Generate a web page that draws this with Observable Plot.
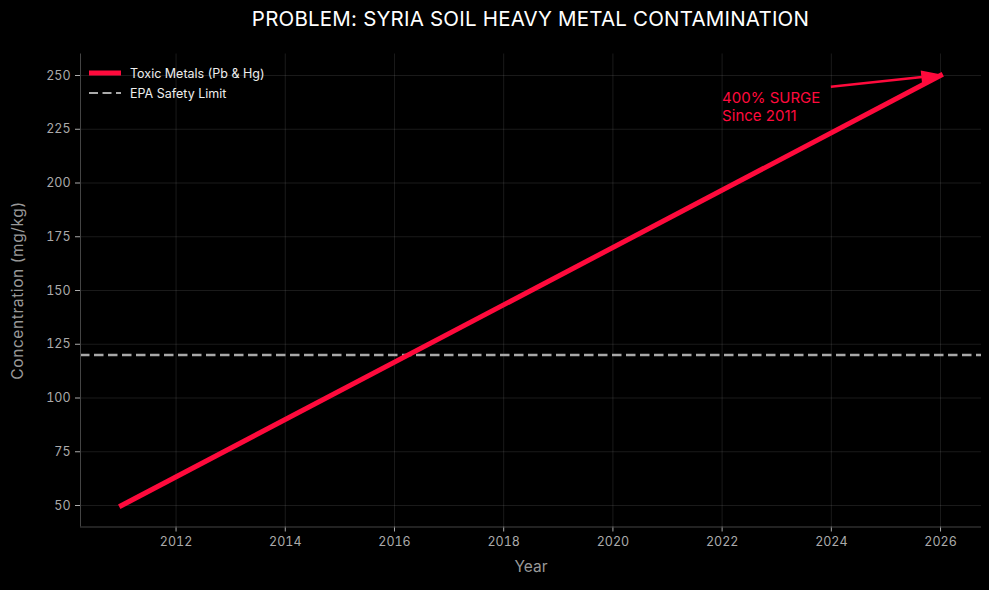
<!DOCTYPE html>
<html>
<head>
<meta charset="utf-8">
<script src="https://cdn.jsdelivr.net/npm/d3@7"></script>
<script src="https://cdn.jsdelivr.net/npm/@observablehq/plot@0.6"></script>
<style>
  html, body { margin: 0; padding: 0; background: #000; }
  #wrap { position: relative; width: 989px; height: 590px; background: #000; font-family: Inter, "Open Sans", sans-serif; }
  #title { height: 40px; line-height: 38px; width: 1061px; margin-left: 0; text-align: center; color: #fff; font-size: 20.5px; letter-spacing: 0.2px; white-space: nowrap; }
  #legend { position: absolute; left: 88px; top: 63px; color: #eee; font-size: 12.5px; }
  #legend .row { display: flex; align-items: center; height: 20px; }
  #legend svg { margin-right: 8px; }
  .ylab { letter-spacing: 0.6px; }
</style>
</head>
<body>
<div id="wrap">
  <div id="title">PROBLEM: SYRIA SOIL HEAVY METAL CONTAMINATION</div>
  <div id="chart"></div>
  <div id="legend"></div>
</div>
<script>
// Soil heavy metal concentration (Pb & Hg), mg/kg
const years = [2011, 2026];
const toxicMetals = [50, 250];
const epaLimit = 120;

// Annotation: label position and arrow target
const noteText = ["400% SURGE", "Since 2011"];
const noteAt = {x: 2022, y: 230};
const arrowFrom = {x: 2024, y: 244.5};
const arrowTo = {x: 2026, y: 250};

const xTicks = [2012, 2014, 2016, 2018, 2020, 2022, 2024, 2026];
const yTicks = [50, 75, 100, 125, 150, 175, 200, 225, 250];

const red = "#ff0a3c";
const font = "Inter, 'Open Sans', sans-serif";
const series = years.map((x, i) => ({x, y: toxicMetals[i]}));

// Straight arrow with a filled triangular head, positioned through the plot scales
function filledArrow(from, to, {stroke, strokeWidth = 2.5, headLength = 18, headWidth = 11}) {
  return (index, scales) => {
    const x1 = scales.x(from.x), y1 = scales.y(from.y);
    const x2 = scales.x(to.x), y2 = scales.y(to.y);
    const a = Math.atan2(y2 - y1, x2 - x1);
    const bx = x2 - headLength * Math.cos(a), by = y2 - headLength * Math.sin(a);
    const nx = -Math.sin(a) * headWidth / 2, ny = Math.cos(a) * headWidth / 2;
    const g = d3.create("svg:g");
    g.append("line").attr("x1", x1).attr("y1", y1).attr("x2", bx).attr("y2", by)
      .attr("stroke", stroke).attr("stroke-width", strokeWidth);
    g.append("path").attr("d", `M${x2},${y2}L${bx + nx},${by + ny}L${bx - nx},${by - ny}Z`)
      .attr("fill", stroke).attr("stroke", stroke).attr("stroke-width", 1.5).attr("stroke-linejoin", "miter");
    return g.node();
  };
}

const chart = Plot.plot({
  width: 989,
  height: 550,
  marginLeft: 80,
  marginRight: 8,
  marginTop: 13.5,
  marginBottom: 63.5,
  style: {background: "#000", color: "#aaa", fontFamily: font, fontSize: "12.5px"},
  x: {domain: [2010.25, 2026.75], label: null},
  y: {domain: [40, 260], label: null},
  marks: [
    Plot.gridX(xTicks, {stroke: "#fff", strokeOpacity: 0.1}),
    Plot.gridY(yTicks, {stroke: "#fff", strokeOpacity: 0.1}),
    Plot.ruleY([epaLimit], {stroke: "#a8a8a8", strokeWidth: 2.5, strokeDasharray: "9.5,4.5"}),
    Plot.line(series, {x: "x", y: "y", stroke: red, strokeWidth: 5, strokeLinecap: "square"}),
    filledArrow(arrowFrom, arrowTo, {stroke: red}),
    Plot.text([noteAt], {
      x: "x", y: "y", text: () => noteText.join("\n"), fill: red, textAnchor: "start",
      lineAnchor: "bottom", fontSize: 15, lineHeight: 1.15, dy: 2
    }),
    Plot.axisX(xTicks, {stroke: "#aaa", color: "#aaa", tickSize: 5, tickPadding: 5, tickFormat: d => String(d)}),
    Plot.axisY(yTicks, {stroke: "#aaa", color: "#aaa", tickSize: 5, tickPadding: 5}),
    Plot.ruleX([2010.25], {stroke: "#444"}),
    Plot.ruleY([40], {stroke: "#444"}),
    Plot.text(["Year"], {frameAnchor: "bottom", dy: 45, fill: "#999", fontSize: 15.5}),
    Plot.text(["Concentration (mg/kg)"], {
      frameAnchor: "left", textAnchor: "middle", dx: -62, rotate: -90, fill: "#999", fontSize: 15.5, className: "ylab"
    })
  ]
});
document.getElementById("chart").appendChild(chart);

// Legend entries
const legendItems = [
  {label: "Toxic Metals (Pb & Hg)", stroke: red, width: 5, dash: null},
  {label: "EPA Safety Limit", stroke: "#aaa", width: 2, dash: "9,4.5"}
];
const legend = document.getElementById("legend");
for (const item of legendItems) {
  const row = document.createElement("div");
  row.className = "row";
  row.innerHTML = `<svg width="34" height="10"><line x1="1" x2="33" y1="5" y2="5" stroke="${item.stroke}" stroke-width="${item.width}" ${item.dash ? `stroke-dasharray="${item.dash}"` : ""}/></svg><span>${item.label}</span>`;
  legend.appendChild(row);
}
</script>
</body>
</html>
